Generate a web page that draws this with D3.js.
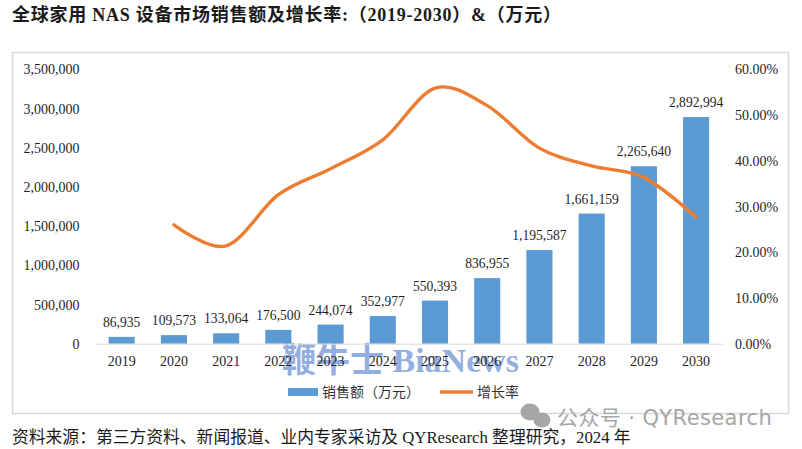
<!DOCTYPE html>
<html lang="zh">
<head>
<meta charset="utf-8">
<title>全球家用 NAS 设备市场销售额及增长率</title>
<script src="https://d3js.org/d3.v7.min.js"></script>
<style>
  html, body { margin: 0; padding: 0; background: #fff; }
  svg { display: block; }
</style>
</head>
<body>
<script>
// data
var years = ["2019", "2020", "2021", "2022", "2023", "2024", "2025", "2026", "2027", "2028", "2029", "2030"];
var sales = [86935, 109573, 133064, 176500, 244074, 352977, 550393, 836955, 1195587, 1661159, 2265640, 2892994];
var growth = [null, 26.0, 21.4, 32.6, 38.3, 44.6, 55.9, 52.1, 42.8, 38.9, 36.4, 27.7];
var salesTicks = [0, 500000, 1000000, 1500000, 2000000, 2500000, 3000000, 3500000];
var growthTicks = [0, 10, 20, 30, 40, 50, 60];
var legendNames = ["销售额（万元）", "增长率"];

var titleText = "全球家用 NAS 设备市场销售额及增长率:（2019-2030）&（万元）";
var sourceText = "资料来源：第三方资料、新闻报道、业内专家采访及 QYResearch 整理研究，2024 年";

var width = 802, height = 449;
var serif = "'Liberation Serif', 'Noto Sans CJK SC', serif";
var cjk = "'Noto Sans CJK SC', sans-serif";
var blue = "#5b9bd5", orange = "#ed7d31", textCol = "#1f1f1f";

var svg = d3.select("body").append("svg")
    .attr("width", width)
    .attr("height", height);

// title
svg.append("text")
    .attr("x", 12).attr("y", 21)
    .attr("font-family", serif)
    .attr("font-size", 18)
    .attr("font-weight", "bold")
    .attr("letter-spacing", 0.75)
    .attr("fill", "#1a1a1a")
    .text(titleText);

// chart frame
svg.append("rect")
    .attr("x", 12.5).attr("y", 52.5)
    .attr("width", 776).attr("height", 361)
    .attr("fill", "#fff")
    .attr("stroke", "#d9d9d9")
    .attr("stroke-width", 1.5);

// scales
var x = d3.scaleBand().domain(years).range([95.6, 722.2]).paddingInner(0.5).paddingOuter(0.25);
var yLeft = d3.scaleLinear().domain([0, 3500000]).range([343.7, 69.5]);
var yRight = d3.scaleLinear().domain([0, 60]).range([343.7, 69.5]);

// watermark sits behind the x labels
svg.append("text")
    .attr("x", 282).attr("y", 372)
    .attr("font-family", serif)
    .attr("font-size", 34)
    .attr("font-weight", "bold")
    .attr("fill", "#7f9fdc")
    .attr("fill-opacity", 0.85)
    .text("鞭牛士 BiaNews");

// bars
svg.selectAll("rect.bar")
    .data(sales)
    .enter()
    .append("rect")
    .attr("class", "bar")
    .attr("x", function(d, i) { return x(years[i]); })
    .attr("y", function(d) { return yLeft(d); })
    .attr("width", x.bandwidth())
    .attr("height", function(d) { return yLeft(0) - yLeft(d); })
    .attr("fill", blue);

// bar labels
svg.selectAll("text.barLabel")
    .data(sales)
    .enter()
    .append("text")
    .attr("class", "barLabel")
    .attr("x", function(d, i) { return x(years[i]) + x.bandwidth() / 2; })
    .attr("y", function(d) { return yLeft(d) - 10; })
    .attr("text-anchor", "middle")
    .attr("font-family", serif)
    .attr("font-size", 13.6)
    .attr("fill", textCol)
    .text(d3.format(","));

// x axis
var xAxis = svg.append("g")
    .attr("transform", "translate(0," + yLeft(0) + ")")
    .call(d3.axisBottom(x).tickSize(0).tickPadding(12));
xAxis.select(".domain").attr("stroke", "#d9d9d9");

// left axis
var leftAxis = svg.append("g")
    .attr("transform", "translate(79.5,0)")
    .call(d3.axisLeft(yLeft).tickValues(salesTicks).tickSize(0).tickPadding(0).tickFormat(d3.format(",")));
leftAxis.select(".domain").remove();

// right axis
var rightAxis = svg.append("g")
    .attr("transform", "translate(735,0)")
    .call(d3.axisRight(yRight).tickValues(growthTicks).tickSize(0).tickPadding(0)
        .tickFormat(function(d) { return d3.format(".2f")(d) + "%"; }));
rightAxis.select(".domain").remove();

svg.selectAll(".tick text")
    .attr("font-family", serif)
    .attr("font-size", 14)
    .attr("fill", textCol);

// growth line
var line = d3.line()
    .defined(function(d) { return d != null; })
    .x(function(d, i) { return x(years[i]) + x.bandwidth() / 2; })
    .y(function(d) { return yRight(d); })
    .curve(d3.curveCardinal.tension(0));

svg.append("path")
    .attr("d", line(growth))
    .attr("fill", "none")
    .attr("stroke", orange)
    .attr("stroke-width", 3.4)
    .attr("stroke-linecap", "round");

// legend
var legend = svg.append("g");
legend.append("rect")
    .attr("x", 288).attr("y", 388)
    .attr("width", 30).attr("height", 8)
    .attr("fill", blue);
legend.append("text")
    .attr("x", 322).attr("y", 397)
    .attr("font-family", cjk)
    .attr("font-size", 14)
    .attr("fill", "#333")
    .text(legendNames[0]);
legend.append("line")
    .attr("x1", 440).attr("x2", 473)
    .attr("y1", 392).attr("y2", 392)
    .attr("stroke", orange)
    .attr("stroke-width", 3.4);
legend.append("text")
    .attr("x", 477).attr("y", 397)
    .attr("font-family", cjk)
    .attr("font-size", 14)
    .attr("fill", "#333")
    .text(legendNames[1]);

// wechat watermark
var mark = svg.append("g").attr("fill", "#a6a6a6");
mark.append("ellipse").attr("cx", 530).attr("cy", 412).attr("rx", 9.5).attr("ry", 8.5);
mark.append("ellipse").attr("cx", 542).attr("cy", 420).attr("rx", 8.5).attr("ry", 7.5);
svg.append("text")
    .attr("x", 557).attr("y", 425)
    .attr("font-family", "'DejaVu Sans', 'Noto Sans CJK SC', sans-serif")
    .attr("font-size", 21)
    .attr("letter-spacing", 0.4)
    .attr("fill", "#a6a6a6")
    .text("公众号 · QYResearch");

// source line
svg.append("text")
    .attr("x", 12).attr("y", 443)
    .attr("font-family", serif)
    .attr("font-size", 16.8)
    .attr("fill", "#1a1a1a")
    .text(sourceText);
</script>
</body>
</html>
